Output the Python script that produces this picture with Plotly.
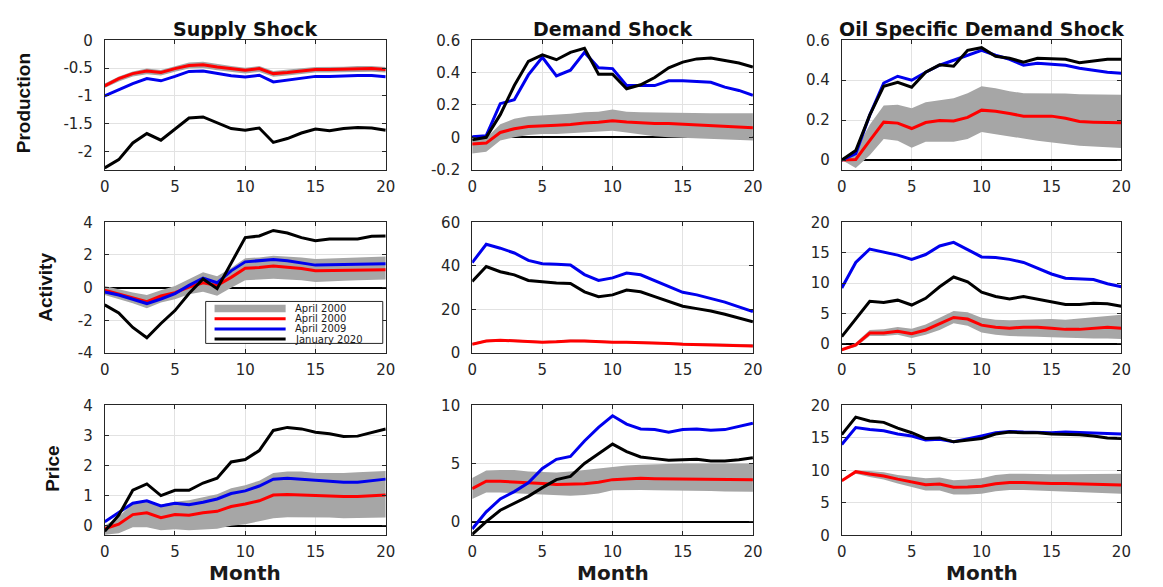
import plotly.graph_objects as go
from plotly.subplots import make_subplots

# ---------------------------------------------------------------------------
# Data: impulse responses over a 20-month horizon
# ---------------------------------------------------------------------------
months = list(range(21))
month_ticks = [0, 5, 10, 15, 20]
month_tick_text = ["0", "5", "10", "15", "20"]

shock_titles = ["Supply Shock", "Demand Shock", "Oil Specific Demand Shock"]
variable_names = ["Production", "Activity", "Price"]
legend_labels = ["April 2000", "April 2000", "April 2009", "January 2020"]
x_title = "Month"

# Production response
prod_supply_red = [-0.82, -0.69, -0.60, -0.555, -0.58, -0.51, -0.455, -0.44, -0.48, -0.51, -0.54,
                   -0.51, -0.60, -0.58, -0.55, -0.525, -0.525, -0.52, -0.51, -0.51, -0.525]
prod_supply_hi = [-0.78, -0.65, -0.56, -0.51, -0.535, -0.465, -0.40, -0.385, -0.43, -0.465, -0.495,
                  -0.465, -0.555, -0.535, -0.505, -0.48, -0.48, -0.475, -0.465, -0.465, -0.48]
prod_supply_lo = [-0.86, -0.74, -0.65, -0.61, -0.635, -0.565, -0.51, -0.50, -0.54, -0.57, -0.60,
                  -0.57, -0.655, -0.635, -0.605, -0.58, -0.58, -0.575, -0.565, -0.565, -0.58]
prod_supply_blue = [-1.00, -0.89, -0.78, -0.69, -0.73, -0.65, -0.56, -0.555, -0.60, -0.64, -0.66,
                    -0.63, -0.75, -0.72, -0.68, -0.65, -0.65, -0.64, -0.635, -0.635, -0.655]
prod_supply_black = [-2.30, -2.15, -1.85, -1.68, -1.80, -1.60, -1.40, -1.38, -1.49, -1.59, -1.62,
                     -1.58, -1.84, -1.77, -1.67, -1.60, -1.63, -1.59, -1.57, -1.58, -1.62]

prod_demand_red = [-0.042, -0.036, 0.030, 0.053, 0.067, 0.073, 0.075, 0.079, 0.089, 0.093, 0.103,
                   0.095, 0.089, 0.085, 0.085, 0.081, 0.077, 0.073, 0.069, 0.065, 0.059]
prod_demand_hi = [-0.010, -0.005, 0.080, 0.115, 0.130, 0.135, 0.140, 0.146, 0.155, 0.158, 0.172,
                  0.158, 0.155, 0.153, 0.155, 0.152, 0.150, 0.149, 0.148, 0.148, 0.148]
prod_demand_lo = [-0.100, -0.090, -0.020, 0.000, 0.014, 0.020, 0.020, 0.024, 0.030, 0.034, 0.040,
                  0.030, 0.016, 0.006, 0.000, -0.004, -0.006, -0.010, -0.014, -0.016, -0.020]
prod_demand_blue = [0.004, 0.010, 0.208, 0.232, 0.386, 0.495, 0.380, 0.415, 0.525, 0.430, 0.425,
                    0.320, 0.320, 0.320, 0.350, 0.350, 0.345, 0.340, 0.310, 0.290, 0.260]
prod_demand_black = [-0.016, 0.000, 0.140, 0.320, 0.470, 0.510, 0.480, 0.525, 0.550, 0.390, 0.390,
                     0.300, 0.325, 0.370, 0.430, 0.465, 0.485, 0.490, 0.475, 0.460, 0.435]

prod_oil_red = [0.0, 0.003, 0.097, 0.190, 0.185, 0.158, 0.188, 0.198, 0.196, 0.214, 0.250,
                0.245, 0.233, 0.220, 0.220, 0.220, 0.209, 0.193, 0.190, 0.190, 0.187]
prod_oil_hi = [0.0, 0.050, 0.177, 0.273, 0.277, 0.260, 0.290, 0.300, 0.310, 0.335, 0.370,
               0.360, 0.345, 0.335, 0.335, 0.335, 0.333, 0.330, 0.328, 0.328, 0.327]
prod_oil_lo = [0.0, -0.040, 0.024, 0.105, 0.097, 0.061, 0.092, 0.092, 0.092, 0.105, 0.140,
               0.129, 0.120, 0.108, 0.097, 0.088, 0.080, 0.072, 0.068, 0.064, 0.060]
prod_oil_blue = [0.0, 0.032, 0.225, 0.386, 0.420, 0.400, 0.440, 0.475, 0.500, 0.525, 0.550,
                 0.525, 0.505, 0.475, 0.485, 0.480, 0.475, 0.460, 0.450, 0.440, 0.435]
prod_oil_black = [0.0, 0.048, 0.225, 0.370, 0.390, 0.365, 0.440, 0.477, 0.470, 0.550, 0.563,
                  0.520, 0.510, 0.490, 0.510, 0.507, 0.505, 0.488, 0.496, 0.505, 0.505]

# Activity response
act_supply_red = [-0.16, -0.40, -0.61, -0.85, -0.51, -0.30, 0.04, 0.30, 0.14, 0.63, 1.19,
                  1.23, 1.33, 1.26, 1.17, 1.03, 1.05, 1.07, 1.07, 1.10, 1.10]
act_supply_hi = [0.10, -0.10, -0.30, -0.45, -0.15, 0.10, 0.50, 0.95, 0.70, 1.20, 1.80,
                 1.85, 1.95, 1.90, 1.85, 1.75, 1.80, 1.82, 1.85, 1.88, 1.90]
act_supply_lo = [-0.45, -0.70, -0.95, -1.25, -0.90, -0.70, -0.40, -0.25, -0.50, 0.00, 0.45,
                 0.50, 0.55, 0.50, 0.45, 0.35, 0.40, 0.42, 0.45, 0.47, 0.50]
act_supply_blue = [-0.26, -0.45, -0.71, -0.97, -0.69, -0.36, 0.14, 0.59, 0.30, 1.03, 1.58,
                   1.66, 1.72, 1.64, 1.52, 1.38, 1.40, 1.42, 1.42, 1.46, 1.46]
act_supply_black = [-1.05, -1.54, -2.43, -3.06, -2.19, -1.40, -0.36, 0.53, -0.06, 1.52, 3.06,
                    3.16, 3.50, 3.34, 3.06, 2.87, 2.98, 2.98, 2.98, 3.14, 3.16]

act_demand_red = [4.1, 5.5, 5.9, 5.6, 5.2, 5.0, 5.2, 5.6, 5.5, 5.2, 5.0,
                  5.0, 4.9, 4.6, 4.4, 4.1, 4.0, 3.9, 3.7, 3.6, 3.3]
act_demand_hi = [4.6, 6.1, 6.5, 6.2, 5.8, 5.6, 5.8, 6.2, 6.1, 5.8, 5.6,
                 5.6, 5.5, 5.2, 5.0, 4.8, 4.7, 4.6, 4.4, 4.3, 4.1]
act_demand_lo = [3.7, 5.0, 5.4, 5.1, 4.7, 4.5, 4.7, 5.1, 5.0, 4.7, 4.5,
                 4.5, 4.4, 4.1, 3.9, 3.6, 3.5, 3.3, 3.1, 3.0, 2.7]
act_demand_blue = [41.5, 49.9, 48.1, 45.9, 42.5, 41.0, 40.7, 40.4, 36.0, 33.3, 34.5,
                   36.7, 35.9, 33.3, 30.4, 27.9, 26.7, 25.2, 23.4, 21.2, 19.0]
act_demand_black = [32.9, 39.7, 37.3, 35.9, 33.3, 32.6, 32.1, 31.9, 28.1, 25.9, 26.7,
                    28.9, 28.1, 25.9, 23.7, 21.5, 20.4, 19.3, 17.8, 16.0, 14.4]

act_oil_red = [-0.95, -0.16, 1.80, 1.80, 2.10, 1.70, 2.30, 3.30, 4.35, 4.10, 3.10,
               2.75, 2.60, 2.75, 2.75, 2.60, 2.40, 2.40, 2.60, 2.75, 2.60]
act_oil_hi = [-0.90, 0.20, 2.30, 2.40, 2.80, 2.50, 3.20, 4.30, 5.40, 5.20, 4.30,
              4.00, 3.90, 4.00, 4.10, 4.10, 4.00, 4.20, 4.50, 4.70, 4.80]
act_oil_lo = [-1.00, -0.50, 1.30, 1.30, 1.50, 1.00, 1.50, 2.30, 3.40, 3.00, 1.90,
              1.50, 1.30, 1.30, 1.20, 1.10, 1.00, 0.90, 0.90, 0.90, 0.80]
act_oil_blue = [9.2, 13.4, 15.6, 15.1, 14.6, 13.9, 14.7, 16.1, 16.7, 15.5, 14.3,
                14.2, 13.9, 13.4, 12.4, 11.5, 10.8, 10.7, 10.6, 9.9, 9.4]
act_oil_black = [1.2, 4.1, 7.0, 6.8, 7.2, 6.4, 7.5, 9.4, 11.0, 10.2, 8.5,
                 7.8, 7.4, 7.8, 7.4, 7.0, 6.5, 6.5, 6.7, 6.6, 6.2]

# Price response
price_supply_red = [-0.10, 0.05, 0.37, 0.43, 0.27, 0.37, 0.35, 0.43, 0.48, 0.64, 0.72,
                    0.83, 1.02, 1.04, 1.02, 1.00, 0.99, 0.97, 0.97, 1.00, 1.02]
price_supply_hi = [0.00, 0.30, 0.75, 0.85, 0.70, 0.80, 0.85, 0.95, 1.05, 1.25, 1.35,
                   1.50, 1.75, 1.80, 1.80, 1.75, 1.75, 1.75, 1.78, 1.80, 1.82]
price_supply_lo = [-0.30, -0.25, -0.05, -0.05, -0.15, -0.12, -0.15, -0.12, -0.10, 0.00, 0.05,
                   0.15, 0.25, 0.28, 0.28, 0.28, 0.27, 0.25, 0.25, 0.26, 0.27]
price_supply_blue = [0.13, 0.43, 0.75, 0.83, 0.66, 0.75, 0.70, 0.78, 0.89, 1.07, 1.16,
                     1.32, 1.55, 1.58, 1.55, 1.50, 1.47, 1.45, 1.45, 1.50, 1.55]
price_supply_black = [-0.18, 0.35, 1.18, 1.39, 1.00, 1.18, 1.18, 1.42, 1.58, 2.12, 2.20,
                      2.50, 3.17, 3.27, 3.22, 3.11, 3.06, 2.97, 2.98, 3.09, 3.22]

price_demand_red = [2.83, 3.47, 3.47, 3.42, 3.33, 3.28, 3.19, 3.25, 3.25, 3.39, 3.61,
                    3.67, 3.72, 3.69, 3.67, 3.67, 3.67, 3.67, 3.61, 3.61, 3.61]
price_demand_hi = [3.75, 4.39, 4.44, 4.44, 4.31, 4.28, 4.22, 4.31, 4.44, 4.58, 4.72,
                   4.83, 4.89, 4.94, 5.00, 5.00, 5.00, 5.00, 5.00, 5.00, 5.00]
price_demand_lo = [1.94, 2.50, 2.50, 2.44, 2.36, 2.30, 2.22, 2.22, 2.28, 2.42, 2.69,
                   2.72, 2.72, 2.69, 2.69, 2.69, 2.69, 2.64, 2.58, 2.56, 2.56]
price_demand_blue = [-0.64, 0.83, 1.94, 2.58, 3.33, 4.58, 5.36, 5.61, 6.94, 8.11, 9.11,
                     8.39, 7.97, 7.92, 7.69, 7.92, 7.97, 7.86, 7.92, 8.19, 8.47]
price_demand_black = [-1.11, 0.00, 0.97, 1.58, 2.17, 2.92, 3.61, 3.89, 5.00, 5.83, 6.67,
                      6.03, 5.56, 5.42, 5.28, 5.33, 5.36, 5.22, 5.22, 5.33, 5.50]

price_oil_red = [8.40, 9.80, 9.45, 9.15, 8.66, 8.20, 7.80, 7.90, 7.40, 7.45, 7.55,
                 7.95, 8.15, 8.15, 8.05, 8.00, 8.00, 7.95, 7.90, 7.80, 7.75]
price_oil_hi = [8.4, 10.0, 9.9, 9.7, 9.3, 9.0, 8.8, 8.9, 8.5, 8.6, 8.8,
                9.3, 9.5, 9.5, 9.4, 9.4, 9.4, 9.4, 9.45, 9.5, 9.5]
price_oil_lo = [8.4, 9.5, 9.0, 8.6, 8.0, 7.4, 6.9, 6.9, 6.3, 6.3, 6.4,
                6.8, 7.0, 7.0, 6.9, 6.9, 6.8, 6.7, 6.6, 6.5, 6.4]
price_oil_blue = [14.0, 16.6, 16.3, 16.1, 15.6, 15.3, 14.7, 14.8, 14.4, 14.8, 15.3,
                  15.8, 16.0, 15.9, 15.8, 15.8, 15.9, 15.8, 15.7, 15.6, 15.6]
price_oil_black = [15.5, 18.2, 17.6, 17.4, 16.5, 15.8, 14.9, 15.0, 14.4, 14.6, 14.9,
                   15.6, 15.9, 15.8, 15.8, 15.6, 15.6, 15.5, 15.3, 15.0, 14.9]

# y-axis ticks per panel
prod_supply_yticks = [-2, -1.5, -1, -0.5, 0]
prod_supply_ytext = ["-2", "-1.5", "-1", "-0.5", "0"]
prod_demand_yticks = [-0.2, 0, 0.2, 0.4, 0.6]
prod_demand_ytext = ["-0.2", "0", "0.2", "0.4", "0.6"]
prod_oil_yticks = [0, 0.2, 0.4, 0.6]
prod_oil_ytext = ["0", "0.2", "0.4", "0.6"]
act_supply_yticks = [-4, -2, 0, 2, 4]
act_supply_ytext = ["-4", "-2", "0", "2", "4"]
act_demand_yticks = [0, 20, 40, 60]
act_demand_ytext = ["0", "20", "40", "60"]
act_oil_yticks = [0, 5, 10, 15, 20]
act_oil_ytext = ["0", "5", "10", "15", "20"]
price_supply_yticks = [0, 1, 2, 3, 4]
price_supply_ytext = ["0", "1", "2", "3", "4"]
price_demand_yticks = [0, 5, 10]
price_demand_ytext = ["0", "5", "10"]
price_oil_yticks = [0, 5, 10, 15, 20]
price_oil_ytext = ["0", "5", "10", "15", "20"]

# ---------------------------------------------------------------------------
# Styling
# ---------------------------------------------------------------------------
W, H = 1163, 587
BAND = "#a6a6a6"
RED = "#ff0000"
BLUE = "#0000ee"
BLACK = "#000000"
AXIS = "#262626"
GRID = "#e2e2e2"
TICK_FONT = dict(family="DejaVu Sans", size=15, color=AXIS)

# axes boxes in pixels (left, right) and (top, bottom)
col_px = [(101, 385.7), (473.3, 757.7), (847.7, 1131)]
row_px = [(32.3, 165.7), (220, 355), (409, 543)]

panels = [
    # row, col, lo, hi, red, blue, black, yrange, yticks, ytext, zeroline
    (1, 1, prod_supply_lo, prod_supply_hi, prod_supply_red, prod_supply_blue, prod_supply_black,
     [-2.33, 0], prod_supply_yticks, prod_supply_ytext, False),
    (1, 2, prod_demand_lo, prod_demand_hi, prod_demand_red, prod_demand_blue, prod_demand_black,
     [-0.2, 0.6], prod_demand_yticks, prod_demand_ytext, True),
    (1, 3, prod_oil_lo, prod_oil_hi, prod_oil_red, prod_oil_blue, prod_oil_black,
     [-0.048, 0.6], prod_oil_yticks, prod_oil_ytext, True),
    (2, 1, act_supply_lo, act_supply_hi, act_supply_red, act_supply_blue, act_supply_black,
     [-4, 4], act_supply_yticks, act_supply_ytext, True),
    (2, 2, act_demand_lo, act_demand_hi, act_demand_red, act_demand_blue, act_demand_black,
     [0, 60], act_demand_yticks, act_demand_ytext, False),
    (2, 3, act_oil_lo, act_oil_hi, act_oil_red, act_oil_blue, act_oil_black,
     [-1.5, 20], act_oil_yticks, act_oil_ytext, True),
    (3, 1, price_supply_lo, price_supply_hi, price_supply_red, price_supply_blue, price_supply_black,
     [-0.32, 4], price_supply_yticks, price_supply_ytext, True),
    (3, 2, price_demand_lo, price_demand_hi, price_demand_red, price_demand_blue, price_demand_black,
     [-1.19, 10], price_demand_yticks, price_demand_ytext, True),
    (3, 3, price_oil_lo, price_oil_hi, price_oil_red, price_oil_blue, price_oil_black,
     [0, 20], price_oil_yticks, price_oil_ytext, False),
]

fig = make_subplots(rows=3, cols=3)

for row, col, lo, hi, red, blue, black, yrange, yticks, ytext, zero in panels:
    # confidence band
    fig.add_trace(go.Scatter(x=months, y=lo, mode="lines", line=dict(width=0, color=BAND),
                             showlegend=False, hoverinfo="skip"), row=row, col=col)
    fig.add_trace(go.Scatter(x=months, y=hi, mode="lines", line=dict(width=0, color=BAND),
                             fill="tonexty", fillcolor=BAND, showlegend=False, hoverinfo="skip"),
                  row=row, col=col)
    for series, color, name in ((red, RED, legend_labels[1]), (blue, BLUE, legend_labels[2]),
                                (black, BLACK, legend_labels[3])):
        fig.add_trace(go.Scatter(x=months, y=series, mode="lines", name=name,
                                 line=dict(color=color, width=3), showlegend=False),
                      row=row, col=col)

    idx = (row - 1) * 3 + col
    xl, xr = col_px[col - 1]
    yt, yb = row_px[row - 1]
    xa = "xaxis" if idx == 1 else f"xaxis{idx}"
    ya = "yaxis" if idx == 1 else f"yaxis{idx}"
    fig.layout[xa].update(
        domain=[xl / W, xr / W], range=[0, 20], tickvals=month_ticks, ticktext=month_tick_text,
        showgrid=True, gridcolor=GRID, gridwidth=1, zeroline=False,
        showline=True, linecolor=AXIS, linewidth=1, mirror="ticks",
        ticks="inside", ticklen=4, tickcolor=AXIS, tickfont=TICK_FONT, ticklabelstandoff=3,
    )
    fig.layout[ya].update(
        domain=[1 - yb / H, 1 - yt / H], range=yrange, tickvals=yticks, ticktext=ytext,
        showgrid=True, gridcolor=GRID, gridwidth=1,
        zeroline=zero, zerolinecolor=BLACK, zerolinewidth=2,
        showline=True, linecolor=AXIS, linewidth=1, mirror="ticks",
        ticks="inside", ticklen=4, tickcolor=AXIS, tickfont=TICK_FONT, ticklabelstandoff=8,
    )

annotations = []
# column titles
title_cx = [243.3, 615.5, 989.3]
for cx, title in zip(title_cx, shock_titles):
    annotations.append(dict(text=title, x=cx / W, y=1 - 21 / H, xref="paper", yref="paper",
                            xanchor="center", yanchor="middle", showarrow=False,
                            font=dict(family="DejaVu Sans", size=19, color="#111111",
                                      weight="bold")))
# row labels
row_label_pos = [(19, 97.5), (41, 287), (48, 474)]
for (px, py), label in zip(row_label_pos, variable_names):
    annotations.append(dict(text=label, x=px / W, y=1 - py / H, xref="paper", yref="paper",
                            xanchor="center", yanchor="middle", showarrow=False, textangle=-90,
                            font=dict(family="Liberation Sans", size=19, color="#111111",
                                      weight="bold")))
# x-axis titles
for cx in title_cx:
    annotations.append(dict(text=x_title, x=cx / W, y=1 - 596 / H, xref="paper", yref="paper",
                            xanchor="center", yanchor="bottom", showarrow=False,
                            font=dict(family="DejaVu Sans", size=20, color="#1a1a1a",
                                      weight="bold")))

# legend inside the Activity / Supply panel
shapes = [dict(type="rect", xref="paper", yref="paper", x0=203.3 / W, x1=382.7 / W,
               y0=1 - 345 / H, y1=1 - 301.7 / H, fillcolor="white",
               line=dict(color=AXIS, width=1), layer="above")]
entry_y = [309, 319.5, 330, 340.5]
sample_x0, sample_x1 = 212.3 / W, 284.3 / W
shapes.append(dict(type="rect", xref="paper", yref="paper", x0=sample_x0, x1=sample_x1,
                   y0=1 - (entry_y[0] + 3.8) / H, y1=1 - (entry_y[0] - 3.8) / H,
                   fillcolor=BAND, line=dict(width=0), layer="above"))
for ey, color in zip(entry_y[1:], (RED, BLUE, BLACK)):
    shapes.append(dict(type="line", xref="paper", yref="paper", x0=sample_x0, x1=sample_x1,
                       y0=1 - ey / H, y1=1 - ey / H, line=dict(color=color, width=3),
                       layer="above"))
for ey, label in zip(entry_y, legend_labels):
    annotations.append(dict(text=label, x=291.7 / W, y=1 - ey / H, xref="paper", yref="paper",
                            xanchor="left", yanchor="middle", showarrow=False,
                            font=dict(family="DejaVu Sans", size=10, color="#1a1a1a")))

fig.update_layout(
    width=W, height=H, margin=dict(l=0, r=0, t=0, b=0),
    paper_bgcolor="white", plot_bgcolor="white", showlegend=False,
    annotations=annotations, shapes=shapes,
)

fig.write_html("out.html")
